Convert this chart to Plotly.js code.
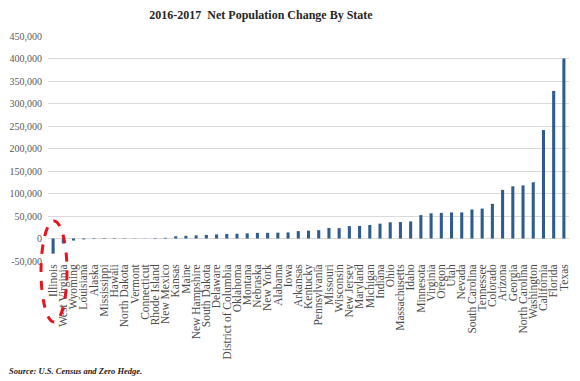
<!DOCTYPE html>
<html>
<head>
<meta charset="utf-8">
<script src="https://cdn.plot.ly/plotly-3.0.1.min.js"></script>
<style>html,body{margin:0;padding:0;background:#fff;}</style>
</head>
<body>
<div id="chart" style="width:580px;height:381px;"></div>
<script>
const states = ["Illinois","West Virginia","Wyoming","Louisiana","Alaska","Mississippi","Hawaii","North Dakota","Vermont","Connecticut","Rhode Island","New Mexico","Kansas","Maine","New Hampshire","South Dakota","Delaware","District of Columbia","Oklahoma","Montana","Nebraska","New York","Alabama","Iowa","Arkansas","Kentucky","Pennsylvania","Missouri","Wisconsin","New Jersey","Maryland","Michigan","Indiana","Ohio","Massachusetts","Idaho","Minnesota","Virginia","Oregon","Utah","Nevada","South Carolina","Tennessee","Colorado","Arizona","Georgia","North Carolina","Washington","California","Florida","Texas"];
const netChange = [-33700,-11000,-4500,-2000,-1200,-1100,-1000,-800,-500,-300,1000,1500,5000,6000,7000,8000,9000,10000,10500,11500,12500,12600,13000,13500,16500,17500,18500,23500,23000,27500,28000,30000,33000,36000,36500,38000,52000,56000,57000,58000,58000,64500,66500,77000,108000,116000,118000,125000,241000,328000,400000];
const yTickVals = [-50000,0,50000,100000,150000,200000,250000,300000,350000,400000,450000];
const yTickText = ["-50,000","0","50,000","100,000","150,000","200,000","250,000","300,000","350,000","400,000","450,000"];

const trace = {
  type: "bar",
  x: states,
  y: netChange,
  marker: {color: "#2e5c8d"},
  hoverinfo: "x+y"
};

const layout = {
  width: 580, height: 381,
  margin: {l: 48, r: 11, t: 36, b: 120},
  paper_bgcolor: "#ffffff",
  plot_bgcolor: "#ffffff",
  bargap: 0.7,
  showlegend: false,
  title: {
    text: "<b>2016-2017  Net Population Change By State</b>",
    font: {family: "Liberation Serif, serif", size: 12, color: "#262626"},
    xref: "container", yref: "container",
    x: 0.45, xanchor: "center", y: 1 - 15/381, yanchor: "middle"
  },
  xaxis: {
    type: "category",
    tickmode: "array",
    tickvals: states,
    ticktext: states,
    tickangle: -90,
    tickfont: {family: "Liberation Serif, serif", size: 11.5, color: "#4a4a4a"},
    showgrid: false,
    ticks: "",
    zeroline: false,
    automargin: false
  },
  yaxis: {
    range: [-50000, 450000],
    tickmode: "array",
    tickvals: yTickVals,
    ticktext: yTickText,
    tickfont: {family: "Liberation Serif, serif", size: 10, color: "#595959"},
    ticklabelstandoff: 5,
    showgrid: true,
    gridcolor: "#d9d9d9",
    gridwidth: 1,
    zeroline: false,
    ticks: "",
    automargin: false
  },
  shapes: [{
    type: "circle",
    xref: "paper", yref: "paper",
    x0: -0.0134, x1: 0.0365,
    y0: -0.271, y1: 0.178,
    line: {color: "#e8141b", width: 3, dash: "dash"},
    fillcolor: "rgba(0,0,0,0)"
  }],
  annotations: [{
    text: "<b><i>Source: U.S. Census and Zero Hedge.</i></b>",
    xref: "paper", yref: "paper",
    x: -0.0787, xanchor: "left",
    y: -0.489, yanchor: "middle",
    showarrow: false,
    font: {family: "Liberation Serif, serif", size: 8.5, color: "#1a1a1a"}
  }]
};

Plotly.newPlot("chart", [trace], layout, {displayModeBar: false, staticPlot: true});
</script>
</body>
</html>
